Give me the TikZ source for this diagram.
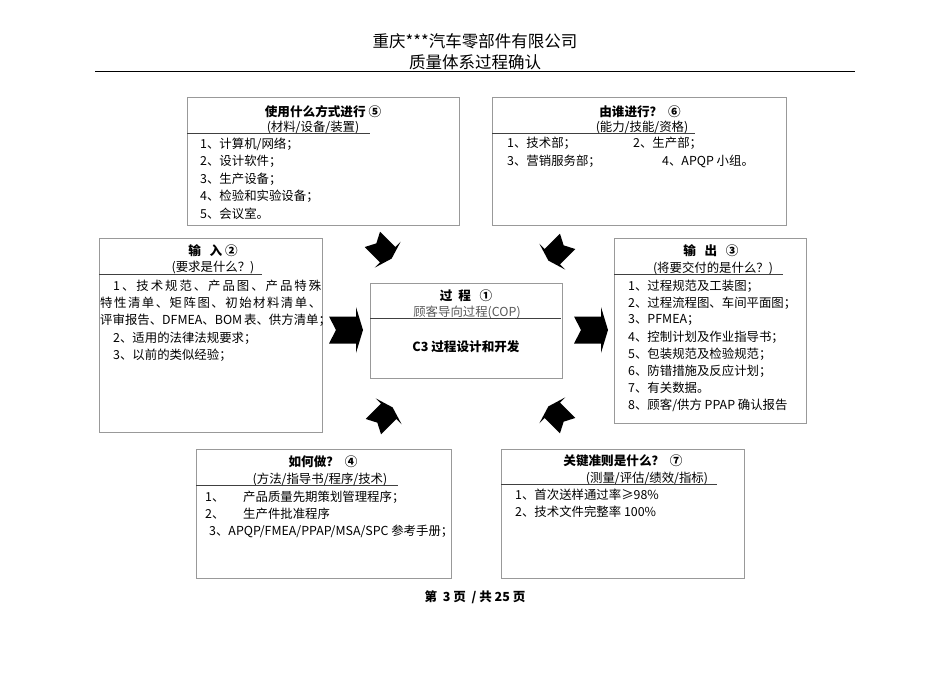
\documentclass[tikz,border=0pt]{standalone}
\usepackage{fontspec}
\setmainfont{Noto Sans CJK SC}
\ExplSyntaxOn
\NewDocumentCommand\spreadtext{mm}{\hbox~to~#1{\tl_map_inline:nn{#2}{##1\hfil}\unskip}}
\ExplSyntaxOff
\tikzset{
  box/.style={draw=black!40, line width=0.8pt, anchor=north west, inner sep=0pt},
  ttl/.style={font=\bfseries\fontsize{12.6}{14}\selectfont, inner sep=0pt},
  sub/.style={font=\fontsize{12.4}{14}\selectfont, inner sep=0pt},
  itm/.style={font=\fontsize{12.4}{14}\selectfont, inner sep=0pt, anchor=west},
  sepl/.style={draw=black!75, line width=0.8pt},
  blockarrow/.pic={\fill[black] (-17,13.5) -- (10,13.5) -- (10,23) -- (17,0) -- (10,-23) -- (10,-13.5) -- (-17,-13.5) -- (-10,0) -- cycle;}
}
\begin{document}
\begin{tikzpicture}[x=1pt,y=-1pt]
\useasboundingbox (0,0) rectangle (950,672);
\fill[white] (0,0) rectangle (950,672);
% header
\node[font=\fontsize{16.5}{18}\selectfont, inner sep=0pt] (h1) at (475,41) {重庆***汽车零部件有限公司};
\node[font=\fontsize{16.5}{18}\selectfont, inner sep=0pt] (h2) at (475,62) {质量体系过程确认};
\draw[line width=1.5pt] (95,71.5) -- (855,71.5);
% box 5
\node[box, minimum width=272pt, minimum height=128pt] (b5) at (187,97) {};
\node[ttl] (t5) at (323,112) {使用什么方式进行\ ⑤};
\node[sub] (s5) at (313,127) {(材料/设备/装置)};
\draw[sepl] (187,133) -- (370,133);
\node[itm] (i51) at (200,144) {1、计算机/网络；};
\node[itm] (i52) at (200,161.5) {2、设计软件；};
\node[itm] (i53) at (200,179) {3、生产设备；};
\node[itm] (i54) at (200,196.5) {4、检验和实验设备；};
\node[itm] (i55) at (200,214) {5、会议室。};
% box 6
\node[box, minimum width=294pt, minimum height=128pt] (b6) at (492,97) {};
\node[ttl] (t6) at (640,112) {由谁进行？\ \ ⑥};
\node[sub] (s6) at (642,127) {(能力/技能/资格)};
\draw[sepl] (492,133) -- (695,133);
\node[itm] (i61) at (507,143.5) {1、技术部；};
\node[itm] (i62) at (633,143.5) {2、生产部；};
\node[itm] (i63) at (507,161) {3、营销服务部；};
\node[itm] (i64) at (662,161) {4、APQP 小组。};
% box 2
\node[box, minimum width=223pt, minimum height=194pt] (b2) at (99,238) {};
\node[ttl] (t2) at (213,251) {输\ \ \ 入\ ②};
\node[sub] (s2) at (213,268) {(要求是什么？)};
\draw[sepl] (99,274) -- (262,274);
\node[itm] (i21) at (113,285.5) {\spreadtext{208pt}{1、技术规范、产品图、产品特殊}};
\node[itm] (i22) at (100,303) {\spreadtext{221pt}{特性清单、矩阵图、初始材料清单、}};
\node[itm] (i23) at (100,320.5) {\spreadtext{221pt}{评审报告、{DFMEA}、{BOM 表}、供方清单；}};
\node[itm] (i24) at (113,338) {2、适用的法律法规要求；};
\node[itm] (i25) at (113,355) {3、以前的类似经验；};
% box 1 (process)
\node[box, minimum width=192pt, minimum height=95pt] (b1) at (370,283) {};
\node[ttl] (t1) at (466,296) {过\ \ 程\ \ \ ①};
\node[sub, text=black!65] (s1) at (467,312) {顾客导向过程(COP)};
\draw[sepl] (370,318.5) -- (561,318.5);
\node[ttl] (m1) at (466,346.5) {C3 过程设计和开发};
% box 3
\node[box, minimum width=192pt, minimum height=185pt] (b3) at (614,238) {};
\node[ttl] (t3) at (711,251) {输\ \ \ 出\ \ \ ③};
\node[sub] (s3) at (713,268) {(将要交付的是什么？)};
\draw[sepl] (614,274) -- (783,274);
\node[itm] (i31) at (628,286) {1、过程规范及工装图；};
\node[itm] (i32) at (628,303) {2、过程流程图、车间平面图；};
\node[itm] (i33) at (628,320) {3、PFMEA；};
\node[itm] (i34) at (628,337) {4、控制计划及作业指导书；};
\node[itm] (i35) at (628,354) {5、包装规范及检验规范；};
\node[itm] (i36) at (628,371) {6、防错措施及反应计划；};
\node[itm] (i37) at (628,388) {7、有关数据。};
\node[itm] (i38) at (628,405) {8、顾客/供方 PPAP 确认报告};
% box 4
\node[box, minimum width=255pt, minimum height=129pt] (b4) at (196,449) {};
\node[ttl] (t4) at (323,462) {如何做？\ \ ④};
\node[sub] (s4) at (320,479) {(方法/指导书/程序/技术)};
\draw[sepl] (196,485.5) -- (398,485.5);
\node[itm] (i41) at (205,497) {1、};
\node[itm] (i41b) at (243,497) {产品质量先期策划管理程序；};
\node[itm] (i42) at (205,514) {2、};
\node[itm] (i42b) at (243,514) {生产件批准程序};
\node[itm] (i43) at (209,531) {3、APQP/FMEA/PPAP/MSA/SPC 参考手册；};
% box 7
\node[box, minimum width=243pt, minimum height=129pt] (b7) at (501,449) {};
\node[ttl] (t7) at (623,461) {关键准则是什么？\ \ ⑦};
\node[sub] (s7) at (647,478) {(测量/评估/绩效/指标)};
\draw[sepl] (501,484) -- (717,484);
\node[itm] (i71) at (515,495) {1、首次送样通过率≥98\%};
\node[itm] (i72) at (515,512) {2、技术文件完整率 100\%};
% arrows
\pic at (346,330) {blockarrow};
\pic at (591,330) {blockarrow};
\pic[rotate=-45, scale=0.8] at (382,249) {blockarrow};
\pic[rotate=-135, scale=0.8] at (558,251) {blockarrow};
\pic[rotate=45, scale=0.8] at (383,417) {blockarrow};
\pic[rotate=135, scale=0.8] at (558,416) {blockarrow};
% footer
\node[font=\bfseries\fontsize{12.5}{14}\selectfont, inner sep=0pt] (ft) at (475,597) {第\ \ 3 页\ \ / 共 25 页};
\end{tikzpicture}
\end{document}
